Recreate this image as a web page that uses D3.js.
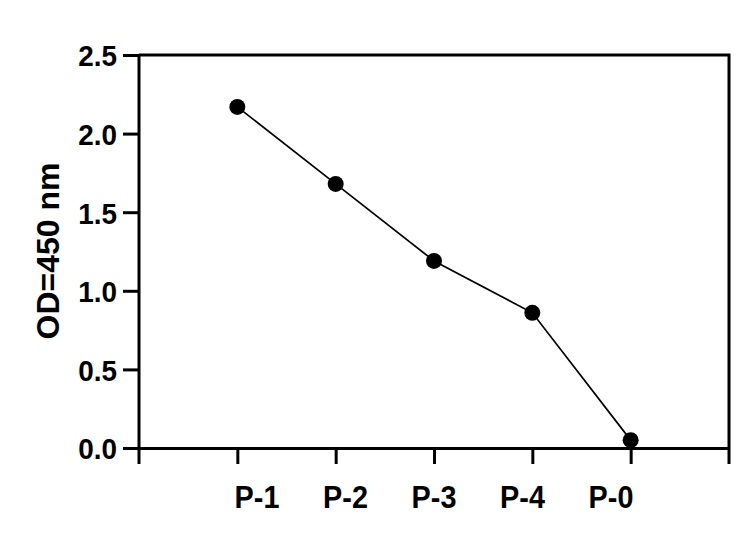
<!DOCTYPE html>
<html>
<head>
<meta charset="utf-8">
<script src="https://cdn.jsdelivr.net/npm/d3@7"></script>
<style>
  body { margin: 0; background: #fff; }
  text { font-family: "Liberation Sans", Arial, sans-serif; font-weight: bold; fill: #000; }
</style>
</head>
<body>
<svg id="chart" width="750" height="544"></svg>
<script>
// data
var categories = ["P-1", "P-2", "P-3", "P-4", "P-0"];
var odValues = [2.17, 1.68, 1.19, 0.86, 0.05];
var yTicks = [0, 0.5, 1.0, 1.5, 2.0, 2.5];

var svg = d3.select("#chart"),
    margin = {top: 55, right: 21, bottom: 96, left: 139},
    width = +svg.attr("width") - margin.left - margin.right,
    height = +svg.attr("height") - margin.top - margin.bottom;

// x runs 0..6, points sit on 1..5
var x = d3.scaleLinear().domain([0, categories.length + 1]).range([0, width]),
    y = d3.scaleLinear().domain([0, 2.5]).range([height, 0]);

// labels are spaced a bit tighter than the ticks in the original
var xLab = d3.scalePoint().domain(categories).range([x(1.2), x(categories.length - 0.2)]);

var g = svg.append("g")
    .attr("transform", "translate(" + margin.left + "," + margin.top + ")");

// frame top + right
g.append("path")
    .attr("d", "M0,0H" + width + "V" + (height + 16))
    .attr("fill", "none")
    .attr("stroke", "#000")
    .attr("stroke-width", 3);

// y axis
var yAxis = g.append("g")
    .call(d3.axisLeft(y).tickValues(yTicks).tickFormat(d3.format(".1f")).tickSize(16).tickPadding(6));
yAxis.select(".domain").attr("d", "M0,0V" + (height + 16)).attr("stroke-width", 3);
yAxis.selectAll(".tick line").attr("stroke-width", 3);
yAxis.selectAll(".tick text")
    .style("font-size", "30px")
    .attr("dy", "0.36em")
    .attr("transform", "translate(-1.5,0) scale(0.93,1)");

// x axis
var xTickVals = d3.range(1, categories.length + 1);
var xAxis = g.append("g")
    .attr("transform", "translate(0," + height + ")")
    .call(d3.axisBottom(x).tickValues(xTickVals).tickFormat("").tickSize(16).tickSizeOuter(0));
xAxis.select(".domain").attr("stroke-width", 3);
xAxis.selectAll(".tick line").attr("stroke-width", 3);

g.append("g")
    .selectAll("text")
    .data(categories)
    .enter()
    .append("text")
    .attr("transform", function (d) { return "translate(" + xLab(d) + "," + (height + 60) + ") scale(0.93,1)"; })
    .attr("text-anchor", "middle")
    .style("font-size", "31px")
    .text(function (d) { return d; });

// y title
svg.append("text")
    .attr("transform", "translate(59,251) rotate(-90)")
    .attr("text-anchor", "middle")
    .style("font-size", "32px")
    .text("OD=450 nm");

// line + markers
var line = d3.line()
    .x(function (d, i) { return x(i + 1); })
    .y(function (d) { return y(d); });

g.append("path")
    .datum(odValues)
    .attr("d", line)
    .attr("fill", "none")
    .attr("stroke", "#000")
    .attr("stroke-width", 1.7);

g.selectAll(".dot")
    .data(odValues)
    .enter()
    .append("circle")
    .attr("class", "dot")
    .attr("cx", function (d, i) { return x(i + 1); })
    .attr("cy", function (d) { return y(d); })
    .attr("r", 8)
    .attr("fill", "#000");
</script>
</body>
</html>
